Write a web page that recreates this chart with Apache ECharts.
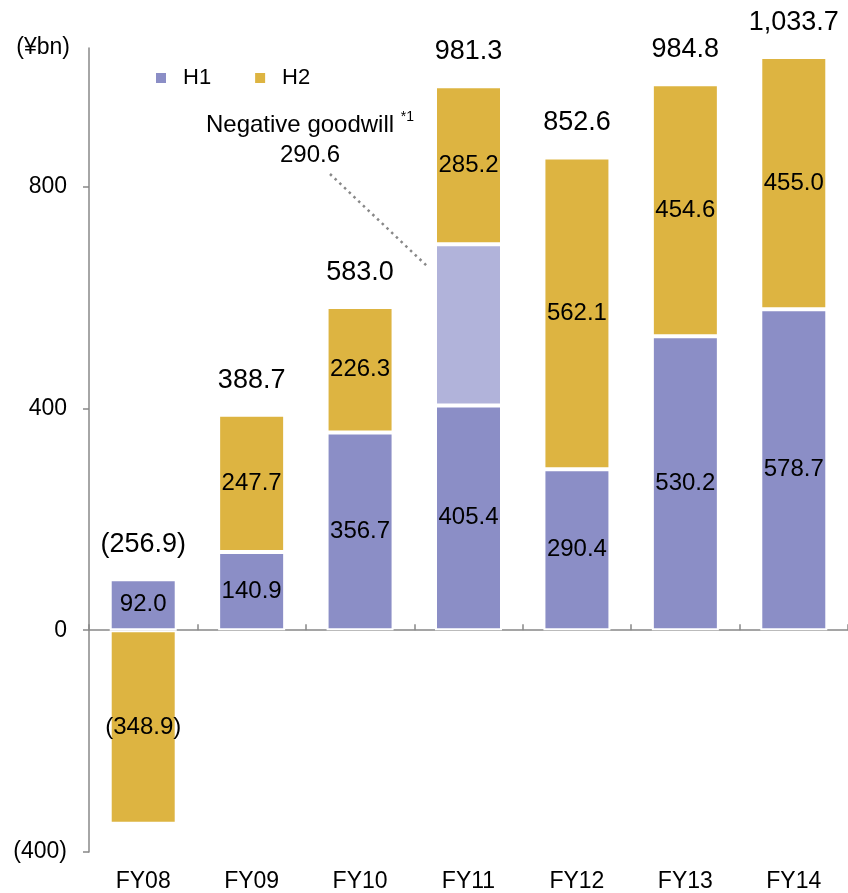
<!DOCTYPE html>
<html>
<head>
<meta charset="UTF-8">
<title>FY08-FY14</title>
<script src="https://cdn.jsdelivr.net/npm/echarts@6/dist/echarts.min.js"></script>
<style>
  html, body { margin: 0; padding: 0; background: #fff; }
  #main { width: 848px; height: 893px; }
</style>
</head>
<body>
<div id="main"></div>
<script type="text/javascript">
var categories = ['FY08', 'FY09', 'FY10', 'FY11', 'FY12', 'FY13', 'FY14'];
var h1Values = [92.0, 140.9, 356.7, 405.4, 290.4, 530.2, 578.7];
var goodwillValues = ['-', '-', '-', 290.6, '-', '-', '-'];
var h2Values = [-348.9, 247.7, 226.3, 285.2, 562.1, 454.6, 455.0];
var totalLabels = ['(256.9)', '388.7', '583.0', '981.3', '852.6', '984.8', '1,033.7'];
var yTicks = [-400, 0, 400, 800];

var FONT = '"Liberation Sans", Arial, sans-serif';
var AXIS = '#888888';

// top of the positive part of each stack, where the total label sits
var stackTops = categories.map(function (c, i) {
  var s = 0;
  [h1Values[i], goodwillValues[i], h2Values[i]].forEach(function (v) {
    if (v !== '-' && v > 0) s += v;
  });
  return s;
});

function fmt(v) {
  return v < 0 ? '(' + Math.abs(v).toFixed(1) + ')' : v.toFixed(1);
}

var segLabel = {
  show: true,
  position: 'inside',
  fontFamily: FONT,
  fontSize: 24,
  color: '#000',
  formatter: function (p) { return fmt(p.value); }
};

var myChart = echarts.init(document.getElementById('main'));
myChart.setOption({
  backgroundColor: '#fff',
  animation: false,
  textStyle: { fontFamily: FONT },
  grid: { left: 89, right: -5, top: 48, bottom: 41 },
  legend: {
    data: ['H1', 'H2'],
    left: 149,
    top: 62,
    icon: 'rect',
    itemWidth: 12,
    itemHeight: 12,
    itemGap: 42,
    textStyle: { fontFamily: FONT, fontSize: 22, color: '#000', padding: [0, 0, 0, 11] }
  },
  xAxis: [{
    type: 'category',
    data: categories,
    axisLine: { onZero: true, lineStyle: { color: AXIS, width: 1.5 } },
    axisTick: { show: true, inside: true, length: 6, lineStyle: { color: AXIS, width: 1.5 } },
    axisLabel: { show: false },
    splitLine: { show: false }
  }, {
    type: 'category',
    data: categories,
    position: 'bottom',
    axisLine: { show: false, onZero: false },
    axisTick: { show: false },
    axisLabel: { fontFamily: FONT, fontSize: 23, color: '#000', margin: 18 },
    splitLine: { show: false }
  }],
  yAxis: {
    type: 'value',
    min: -400,
    max: 1050,
    interval: 400,
    name: '(¥bn)',
    nameLocation: 'end',
    nameGap: 0,
    nameTextStyle: { fontFamily: FONT, fontSize: 23, color: '#000', align: 'right', verticalAlign: 'middle', padding: [0, 19, 0, 0] },
    axisLine: { show: true, lineStyle: { color: AXIS, width: 1.5 } },
    axisTick: { show: true, length: 6, lineStyle: { color: AXIS, width: 1.5 } },
    splitLine: { show: false },
    axisLabel: {
      fontFamily: FONT, fontSize: 23, color: '#000', margin: 22,
      showMaxLabel: false,
      formatter: function (v) {
        if (yTicks.indexOf(v) < 0) return '';
        return v < 0 ? '(' + Math.abs(v) + ')' : String(v);
      }
    }
  },
  series: [{
    name: 'H1',
    type: 'bar',
    stack: 'total',
    barWidth: 67,
    data: h1Values,
    itemStyle: { color: '#8b8ec6', borderColor: '#fff', borderWidth: 2 },
    label: segLabel
  }, {
    name: 'Negative goodwill',
    type: 'bar',
    stack: 'total',
    barWidth: 67,
    data: goodwillValues,
    itemStyle: { color: '#b1b3da', borderColor: '#fff', borderWidth: 2 },
    label: { show: false }
  }, {
    name: 'H2',
    type: 'bar',
    stack: 'total',
    barWidth: 67,
    data: h2Values,
    itemStyle: { color: '#ddb441', borderColor: '#fff', borderWidth: 2 },
    label: segLabel
  }, {
    name: 'Total',
    type: 'scatter',
    symbolSize: 0,
    data: stackTops,
    silent: true,
    itemStyle: { opacity: 1 },
    label: {
      show: true,
      position: 'top',
      distance: 21,
      fontFamily: FONT,
      fontSize: 27,
      color: '#000',
      formatter: function (p) { return totalLabels[p.dataIndex]; }
    }
  }],
  graphic: [{
    type: 'text',
    x: 310,
    y: 110,
    style: {
      text: 'Negative goodwill {s|*1}\n{v|290.6}',
      align: 'center',
      verticalAlign: 'top',
      fontFamily: FONT,
      fontSize: 24,
      lineHeight: 30,
      fill: '#000',
      rich: {
        s: { fontSize: 14, lineHeight: 14, verticalAlign: 'top', fontFamily: FONT, fill: '#000' },
        v: { fontSize: 24, lineHeight: 30, fontFamily: FONT, fill: '#000' }
      }
    }
  }, {
    type: 'line',
    shape: { x1: 330, y1: 174, x2: 428, y2: 267 },
    style: { stroke: '#888', lineWidth: 2.5, lineDash: [2.5, 4] }
  }]
});
</script>
</body>
</html>
